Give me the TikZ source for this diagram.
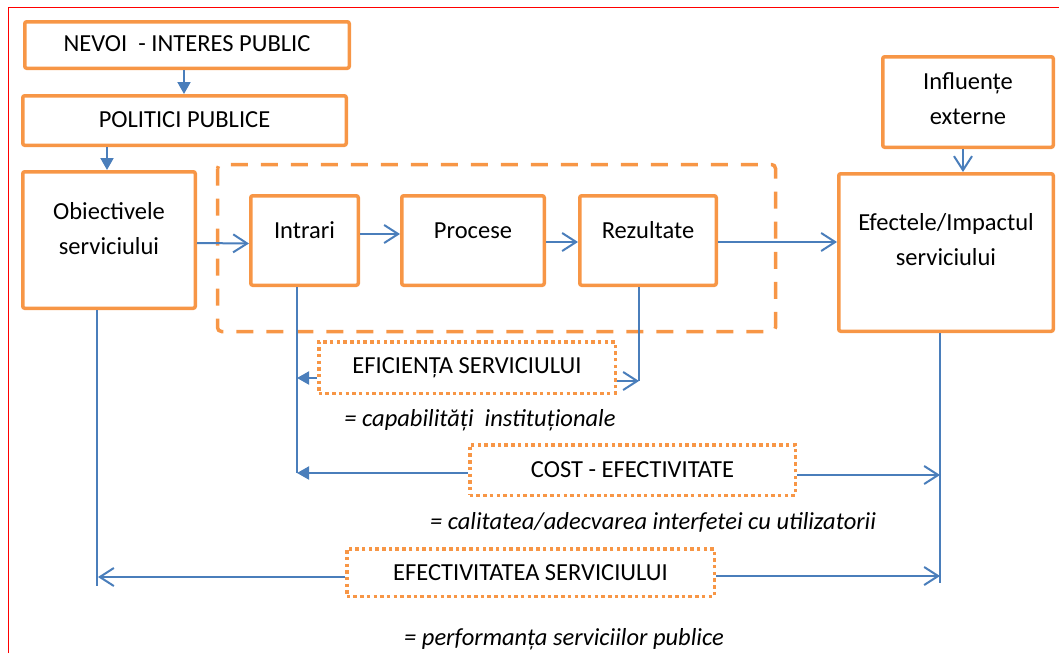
\documentclass[tikz,border=0pt]{standalone}
\usepackage{fontspec}
\setmainfont{Carlito}
\usetikzlibrary{arrows.meta}
\definecolor{myorange}{HTML}{F79646}
\definecolor{myblue}{HTML}{4A7EBB}
\definecolor{myred}{HTML}{FF0000}

\begin{document}
\begin{tikzpicture}[x=1pt, y=-1pt,
  box/.style={draw=myorange, line width=3.5pt, rounded corners=2pt, align=center, inner sep=0pt,
    font=\fontsize{24.5}{35}\selectfont, text height=18pt, text depth=5pt},
  dotbox/.style={draw=myorange, line width=3.5pt, dash pattern=on 3.5pt off 3.2pt, align=center,
    inner sep=0pt, font=\fontsize{24.5}{35}\selectfont},
  note/.style={font=\fontsize{24.5}{35}\selectfont\itshape},
  conn/.style={myblue, line width=2pt, -{Straight Barb[length=14pt,width=18pt]}},
  connfill/.style={myblue, line width=2pt, -{Triangle[length=12pt,width=13pt]}},
  feed/.style={myblue, line width=2pt}]

\useasboundingbox (0,0) rectangle (1059,653);

% FRAME
\draw[myred, line width=1pt] (8,653) -- (8,7) -- (1059,7);

% TOP CHAIN
\node[box, minimum width=324.5pt, minimum height=46.5pt] (nevoi) at (187,45) {NEVOI~ - INTERES PUBLIC};
\node[box, minimum width=323.5pt, minimum height=49.5pt] (politici) at (184.5,120.5) {POLITICI PUBLICE};
\node[box, minimum width=172.5pt, minimum height=136.5pt, text height=33pt] (obiectivele) at (109,240) {Obiectivele\\serviciului};

% PROCESS
\draw[myorange, line width=3.5pt, dash pattern=on 17pt off 13pt, rounded corners=4pt] (217.5,164.5) rectangle (775.5,331.5);
\node[box, minimum width=107.5pt, minimum height=89.5pt, text depth=23pt] (intrari) at (304.5,240.5) {Intrari};
\node[box, minimum width=142.5pt, minimum height=89.5pt, text depth=23pt] (procese) at (473,240.5) {Procese};
\node[box, minimum width=136.5pt, minimum height=89.5pt, text depth=23pt] (rezultate) at (648,240.5) {Rezultate};

% RIGHT SIDE
\node[box, minimum width=170.5pt, minimum height=90.5pt, text height=49pt] (influente) at (968,102) {Influențe\\externe};
\node[box, minimum width=214.5pt, minimum height=157.5pt, text height=30pt] (efectele) at (946,252.5) {Efectele/Impactul\\serviciului};

% MEASURES
\node[dotbox, minimum width=296.5pt, minimum height=51.5pt] (eficienta) at (467,367.5) {EFICIENȚA SERVICIULUI};
\node[note] (capab) at (480,420) {= capabilități~ instituționale};
\node[dotbox, minimum width=325.5pt, minimum height=50.5pt] (cost) at (632.5,470) {COST - EFECTIVITATE};
\node[note] (calit) at (653,522) {= calitatea/adecvarea interfetei cu utilizatorii};
\node[dotbox, minimum width=367.5pt, minimum height=47.5pt] (efectiv) at (530.5,572.5) {EFECTIVITATEA SERVICIULUI};
\node[note] (perf) at (564,639) {= performanța serviciilor publice};

\coordinate (inmid) at (297,378);
\coordinate (inbot) at (297,473);
\coordinate (rezbot) at (639,381);
\coordinate (efcost) at (940,475);
\coordinate (efeff) at (940,576);
\coordinate (efbot) at (940,583);
\coordinate (obeff) at (98,577);
\coordinate (obbot) at (97,586);

% FLOW
\draw[connfill] ([xshift=-3pt]nevoi.south) -- ([xshift=-0.5pt]politici.north);
\draw[connfill] ([xshift=-77.5pt]politici.south) -- ([xshift=-2pt]obiectivele.north);
\draw[conn] ([yshift=-3pt]obiectivele.east) -- ([yshift=-3pt]intrari.west);
\draw[conn] ([yshift=6.5pt]intrari.east) -- ([yshift=6.5pt]procese.west);
\draw[conn] ([yshift=-1.5pt]procese.east) -- ([yshift=-1.5pt]rezultate.west);
\draw[conn] ([yshift=-1.5pt]rezultate.east) -- ([yshift=10.5pt]efectele.west);
\draw[conn] ([xshift=-5pt]influente.south) -- ([xshift=17pt]efectele.north);

% FEEDBACK
\draw[feed] ([xshift=-7.5pt]intrari.south) -- (inbot);
\draw[connfill] ([yshift=-10.5pt]eficienta.west) -- (inmid);
\draw[connfill] ([yshift=-3pt]cost.west) -- (inbot);
\draw[feed] ([xshift=-9pt]rezultate.south) -- (rezbot);
\draw[conn] ([yshift=-13.5pt]eficienta.east) -- (rezbot);
\draw[feed] ([xshift=-6pt]efectele.south) -- (efbot);
\draw[conn] ([yshift=-5pt]cost.east) -- (efcost);
\draw[conn] ([yshift=-3.5pt]efectiv.east) -- (efeff);
\draw[feed] ([xshift=-12pt]obiectivele.south) -- (obbot);
\draw[conn] ([yshift=-4.5pt]efectiv.west) -- (obeff);

\end{tikzpicture}
\end{document}
